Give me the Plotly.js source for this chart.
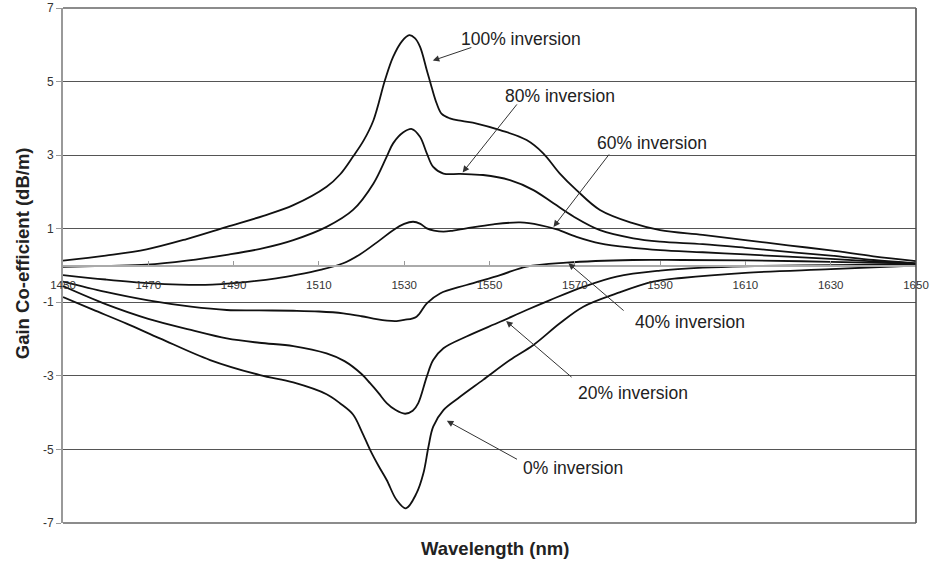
<!DOCTYPE html>
<html>
<head>
<meta charset="utf-8">
<script src="https://cdn.plot.ly/plotly-3.0.1.min.js"></script>
<style>
  html, body { margin: 0; padding: 0; background: #fff; }
  #chart { width: 930px; height: 563px; }
</style>
</head>
<body>
<div id="chart"></div>
<script>
// Gain coefficient spectra of the doped fibre for several inversion levels
const wl100 = [1450, 1460, 1469.6, 1479, 1488.4, 1497, 1504, 1511.8, 1515, 1518, 1520.5, 1522.8, 1525.5, 1527.4, 1529.5, 1531.2, 1532.5, 1533.7, 1535.3, 1536.4, 1537.6, 1538.8, 1540.7, 1543.5, 1547, 1552.5, 1558.7, 1562.6, 1566.5, 1570.4, 1575.9, 1583.6, 1590, 1600, 1610, 1620, 1630, 1640, 1650];
const gain100 = [0.13, 0.27, 0.44, 0.72, 1.05, 1.35, 1.64, 2.14, 2.48, 2.96, 3.4, 3.95, 5.04, 5.67, 6.1, 6.26, 6.18, 5.95, 5.31, 4.86, 4.41, 4.12, 4.0, 3.93, 3.86, 3.68, 3.41, 3.05, 2.5, 2.05, 1.51, 1.15, 0.96, 0.83, 0.69, 0.55, 0.41, 0.25, 0.12];

const wl80 = [1450, 1460, 1469.6, 1479, 1488.4, 1497, 1504, 1511.8, 1518, 1522.8, 1525.9, 1527.4, 1529.8, 1531.8, 1533.7, 1535.3, 1536.8, 1539.2, 1543.1, 1548.5, 1554.8, 1560.3, 1565, 1569.7, 1575.9, 1583.7, 1590, 1600, 1610, 1620, 1630, 1640, 1650];
const gain80 = [-0.04, -0.01, 0.02, 0.13, 0.29, 0.47, 0.69, 1.05, 1.51, 2.23, 2.96, 3.32, 3.62, 3.71, 3.5, 3.05, 2.68, 2.5, 2.49, 2.46, 2.32, 2.05, 1.69, 1.33, 0.96, 0.74, 0.65, 0.58, 0.48, 0.37, 0.27, 0.15, 0.06];

const wl60 = [1450, 1460, 1470, 1477.4, 1485, 1490, 1500, 1505, 1510.3, 1515.7, 1519.6, 1524.3, 1527.4, 1530, 1532.1, 1533.8, 1535.3, 1537, 1539.2, 1541.5, 1544.6, 1550.9, 1557.2, 1561.8, 1565.8, 1570.4, 1575.9, 1583.7, 1590, 1600, 1610, 1620, 1630, 1640, 1650];
const gain60 = [-0.26, -0.38, -0.48, -0.52, -0.52, -0.48, -0.35, -0.25, -0.12, 0.06, 0.3, 0.69, 0.96, 1.13, 1.19, 1.13, 1.01, 0.95, 0.92, 0.95, 1.01, 1.12, 1.17, 1.1, 0.98, 0.78, 0.6, 0.48, 0.42, 0.36, 0.3, 0.24, 0.18, 0.11, 0.05];

const wl40 = [1450, 1460, 1470, 1480, 1488.4, 1496, 1504, 1510, 1515.7, 1520, 1523.5, 1526, 1528.2, 1530, 1532.9, 1535.3, 1538.4, 1544.6, 1552.5, 1558.7, 1568, 1583.6, 1595, 1610, 1630, 1650];
const gain40 = [-0.44, -0.72, -0.95, -1.12, -1.21, -1.22, -1.23, -1.25, -1.3, -1.38, -1.46, -1.5, -1.51, -1.48, -1.39, -1.03, -0.76, -0.53, -0.26, -0.03, 0.08, 0.15, 0.15, 0.14, 0.1, 0.05];

const wl20 = [1450, 1460, 1470, 1480, 1488.4, 1496, 1504, 1511.8, 1516, 1520, 1522, 1524, 1525.9, 1528, 1530.2, 1532, 1533.3, 1535.3, 1536.8, 1539.2, 1544.6, 1552.5, 1558.7, 1564.2, 1572, 1579.8, 1590, 1600, 1610, 1630, 1650];
const gain20 = [-0.56, -1.05, -1.45, -1.75, -1.98, -2.1, -2.19, -2.39, -2.6, -2.95, -3.2, -3.47, -3.74, -3.93, -4.03, -3.95, -3.74, -3.02, -2.57, -2.25, -1.93, -1.53, -1.21, -0.94, -0.58, -0.3, -0.14, -0.06, -0.02, 0.01, 0.03];

const wl0 = [1450, 1457, 1464.9, 1472.7, 1484.5, 1496.2, 1504, 1511.8, 1515, 1518, 1520, 1522, 1524, 1525.9, 1528.2, 1530.4, 1532.9, 1534.5, 1535.7, 1536.8, 1539.2, 1543.1, 1548.5, 1554.8, 1560.3, 1566.5, 1572, 1579.8, 1588.4, 1595, 1610, 1630, 1650];
const gain0 = [-0.86, -1.2, -1.58, -1.98, -2.57, -2.98, -3.18, -3.5, -3.75, -4.05, -4.5, -5.01, -5.45, -5.83, -6.37, -6.6, -6.19, -5.65, -4.92, -4.38, -3.93, -3.57, -3.11, -2.57, -2.16, -1.57, -1.12, -0.76, -0.44, -0.34, -0.2, -0.1, 0.0];

const xTicks = [1450, 1470, 1490, 1510, 1530, 1550, 1570, 1590, 1610, 1630, 1650];
const yTicks = [-7, -5, -3, -1, 1, 3, 5, 7];

// Label text, arrow head (wavelength, gain), arrow tail, text centre
const labels = ['100% inversion', '80% inversion', '60% inversion', '40% inversion', '20% inversion', '0% inversion'];
const headWl = [1536.7, 1543.7, 1565.0, 1568.5, 1553.9, 1540.0];
const headGain = [5.57, 2.53, 1.05, 0.06, -1.51, -4.22];
const tailWl = [1546.1, 1556.7, 1578.3, 1581.8, 1569.6, 1556.8];
const tailGain = [5.94, 4.42, 3.06, -1.26, -3.07, -5.29];
const textWl = [1557.4, 1566.5, 1588.1, 1597.0, 1583.6, 1569.5];
const textGain = [6.15, 4.6, 3.33, -1.53, -3.46, -5.5];

const series = [
  [wl100, gain100], [wl80, gain80], [wl60, gain60],
  [wl40, gain40], [wl20, gain20], [wl0, gain0]
];

const traces = series.map(([x, y], i) => ({
  x: x, y: y, type: 'scatter', mode: 'lines', name: labels[i],
  line: { color: '#111', width: 1.8, shape: 'spline', smoothing: 1 },
  hoverinfo: 'x+y'
}));

const font = 'Liberation Sans, Arial, sans-serif';
const annotations = [];
labels.forEach((t, i) => {
  annotations.push({
    x: headWl[i], y: headGain[i], xref: 'x', yref: 'y',
    ax: tailWl[i], ay: tailGain[i], axref: 'x', ayref: 'y',
    text: '', showarrow: true, arrowhead: 2, arrowsize: 1.3,
    arrowwidth: 1, arrowcolor: '#333'
  });
  annotations.push({
    x: textWl[i], y: textGain[i], xref: 'x', yref: 'y',
    text: t, showarrow: false, xanchor: 'center', yanchor: 'middle',
    font: { family: font, size: 17.5, color: '#222' }
  });
});
annotations.push({
  x: 0.506, y: -0.049, xref: 'paper', yref: 'paper',
  text: '<b>Wavelength (nm)</b>', showarrow: false,
  xanchor: 'center', yanchor: 'middle',
  font: { family: font, size: 18.5, color: '#222' }
});
annotations.push({
  x: -0.048, y: 0.524, xref: 'paper', yref: 'paper',
  text: '<b>Gain Co-efficient (dB/m)</b>', showarrow: false, textangle: -90,
  xanchor: 'center', yanchor: 'middle',
  font: { family: font, size: 18.5, color: '#222' }
});

const layout = {
  width: 930, height: 563,
  margin: { l: 63, r: 14, t: 8, b: 40 },
  paper_bgcolor: '#fff', plot_bgcolor: '#fff',
  showlegend: false,
  font: { family: font, color: '#333' },
  xaxis: {
    range: [1450, 1650], tickvals: xTicks, ticktext: xTicks.map(String),
    anchor: 'free', position: 0.5,
    showline: true, linecolor: '#aaa', linewidth: 2,
    ticks: 'inside', ticklen: 4, tickcolor: '#999',
    ticklabelstandoff: 9,
    showgrid: false, zeroline: false,
    tickfont: { family: font, size: 11.5, color: '#333' }
  },
  yaxis: {
    range: [-7, 7], tickvals: yTicks, ticktext: yTicks.map(String),
    showline: true, linecolor: '#999', linewidth: 2,
    ticks: 'outside', ticklen: 5, tickcolor: '#999',
    showgrid: true, gridcolor: '#555', gridwidth: 1,
    zeroline: false,
    tickfont: { family: font, size: 12, color: '#333' }
  },
  shapes: [
    { type: 'line', xref: 'paper', yref: 'paper', x0: 1, x1: 1, y0: 0, y1: 1,
      line: { color: '#444', width: 1.5 } },
    { type: 'line', xref: 'paper', yref: 'paper', x0: 0, x1: 1, y0: 1, y1: 1,
      line: { color: '#666', width: 1.5 } },
    { type: 'line', xref: 'paper', yref: 'paper', x0: 0, x1: 1, y0: 0, y1: 0,
      line: { color: '#666', width: 1.5 } }
  ],
  annotations: annotations
};

Plotly.newPlot('chart', traces, layout, { displayModeBar: false, staticPlot: true });
</script>
</body>
</html>
